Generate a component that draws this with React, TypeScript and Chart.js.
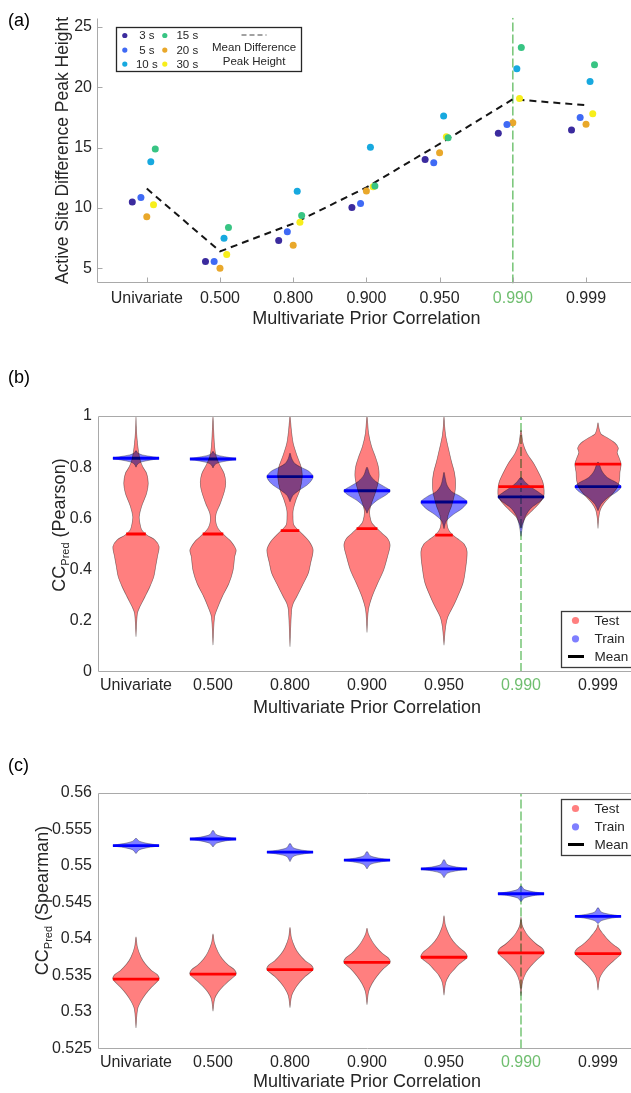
import React, { useEffect, useRef } from 'react';
import { Chart, registerables } from 'chart.js';

// ---------------- shared ----------------
const CATEGORIES = ['Univariate', '0.500', '0.800', '0.900', '0.950', '0.990', '0.999'];
const HIGHLIGHT_INDEX = 5; // '0.990'
const X_TITLE = 'Multivariate Prior Correlation';

// ---------------- panel (a) ----------------
const DURATIONS = ['3 s', '5 s', '10 s', '15 s', '20 s', '30 s'];
const PEAK_3S = [10.5, 5.56, 7.3, 10.04, 14.0, 16.18, 16.46];
const PEAK_5S = [10.87, 5.56, 8.02, 10.37, 13.74, 16.9, 17.48];
const PEAK_10S = [13.83, 7.49, 11.37, 15.02, 17.62, 21.52, 20.47];
const PEAK_15S = [14.88, 8.38, 9.38, 11.81, 15.8, 23.29, 21.85];
const PEAK_20S = [9.26, 5.0, 6.91, 11.4, 14.57, 17.06, 16.93];
const PEAK_30S = [10.26, 6.14, 8.82, 11.75, 15.9, 19.06, 17.79];
const PEAK_MEAN = [11.6, 6.4, 8.7, 11.7, 15.3, 19.0, 18.5];
const PEAK_Y_TICKS = [5, 10, 15, 20, 25];
const PEAK_Y_LABEL = 'Active Site Difference Peak Height';
const MEAN_LEGEND = ['Mean Difference', 'Peak Height'];

// ---------------- panel (b): Pearson, [value, relative density] ----------------
const PEARSON_TEST_MEAN = [0.539, 0.539, 0.552, 0.56, 0.535, 0.724, 0.812];
const PEARSON_TRAIN_MEAN = [0.835, 0.832, 0.763, 0.708, 0.664, 0.684, 0.724];
const PEARSON_TEST_SHAPES = [
  [[0.138,0],[0.229,0.06],[0.255,0.17],[0.294,0.39],[0.333,0.6],[0.372,0.77],[0.411,0.85],[0.451,0.93],[0.49,1],[0.516,0.82],[0.535,0.47],[0.555,0.25],[0.581,0.17],[0.607,0.14],[0.646,0.24],[0.698,0.46],[0.737,0.53],[0.776,0.46],[0.802,0.29],[0.828,0.18],[0.867,0.1],[0.919,0.04],[0.958,0.015],[1.0,0]],
  [[0.105,0],[0.216,0.07],[0.255,0.22],[0.294,0.4],[0.346,0.69],[0.398,0.87],[0.451,0.94],[0.477,1],[0.509,0.79],[0.529,0.55],[0.561,0.22],[0.587,0.12],[0.62,0.14],[0.659,0.32],[0.711,0.51],[0.743,0.55],[0.776,0.48],[0.809,0.29],[0.841,0.14],[0.88,0.07],[0.945,0.03],[1.0,0]],
  [[0.099,0],[0.242,0.07],[0.268,0.14],[0.294,0.29],[0.346,0.58],[0.385,0.79],[0.424,0.89],[0.477,1],[0.509,0.84],[0.535,0.58],[0.574,0.17],[0.607,0.13],[0.633,0.14],[0.672,0.26],[0.711,0.43],[0.763,0.53],[0.802,0.48],[0.841,0.32],[0.893,0.14],[0.945,0.06],[1.0,0]],
  [[0.154,0],[0.242,0.06],[0.294,0.22],[0.346,0.46],[0.398,0.72],[0.451,0.89],[0.496,1],[0.522,0.89],[0.542,0.65],[0.581,0.22],[0.607,0.13],[0.633,0.12],[0.665,0.22],[0.711,0.4],[0.763,0.52],[0.802,0.49],[0.841,0.36],[0.88,0.2],[0.932,0.07],[1.0,0]],
  [[0.105,0],[0.177,0.07],[0.216,0.17],[0.268,0.46],[0.346,0.82],[0.4,0.93],[0.47,1],[0.5,0.87],[0.52,0.6],[0.535,0.38],[0.555,0.2],[0.58,0.13],[0.61,0.17],[0.65,0.33],[0.7,0.47],[0.74,0.5],[0.78,0.45],[0.82,0.33],[0.87,0.2],[0.92,0.08],[0.96,0.03],[1.0,0]],
  [[0.561,0],[0.581,0.07],[0.607,0.22],[0.633,0.51],[0.659,0.79],[0.685,0.98],[0.711,1],[0.741,0.95],[0.774,0.79],[0.815,0.55],[0.854,0.26],[0.893,0.09],[0.945,0]],
  [[0.561,0],[0.6,0.03],[0.633,0.1],[0.66,0.27],[0.69,0.57],[0.72,0.83],[0.75,0.93],[0.78,0.95],[0.812,1],[0.84,0.9],[0.857,0.83],[0.875,0.88],[0.895,0.73],[0.915,0.4],[0.93,0.13],[0.95,0.05],[0.974,0]],
];
const PEARSON_TRAIN_SHAPES = [
  [[0.8,0],[0.812,0.07],[0.821,0.25],[0.829,0.7],[0.835,1],[0.841,0.7],[0.848,0.27],[0.855,0.08],[0.865,0]],
  [[0.797,0],[0.809,0.07],[0.818,0.25],[0.826,0.7],[0.832,1],[0.838,0.7],[0.845,0.27],[0.852,0.08],[0.862,0]],
  [[0.665,0],[0.69,0.13],[0.71,0.4],[0.735,0.8],[0.763,1],[0.785,0.8],[0.8,0.47],[0.815,0.2],[0.835,0.07],[0.855,0]],
  [[0.62,0],[0.645,0.13],[0.67,0.43],[0.69,0.8],[0.708,1],[0.725,0.73],[0.745,0.37],[0.77,0.13],[0.8,0]],
  [[0.56,0],[0.59,0.1],[0.615,0.4],[0.64,0.8],[0.664,1],[0.685,0.73],[0.705,0.33],[0.73,0.13],[0.76,0.05],[0.78,0]],
  [[0.53,0],[0.57,0.07],[0.61,0.2],[0.64,0.43],[0.665,0.8],[0.684,1],[0.7,0.8],[0.72,0.47],[0.74,0.2],[0.76,0]],
  [[0.63,0],[0.655,0.13],[0.68,0.4],[0.705,0.83],[0.724,1],[0.74,0.8],[0.76,0.4],[0.785,0.17],[0.82,0]],
];
const PEARSON_Y_TICKS = [0, 0.2, 0.4, 0.6, 0.8, 1];
const PEARSON_Y_LABELS = ['0', '0.2', '0.4', '0.6', '0.8', '1'];

// ---------------- panel (c): Spearman ----------------
const SPEARMAN_TEST_MEAN = [0.5345, 0.5352, 0.5358, 0.5368, 0.5375, 0.5381, 0.538];
const SPEARMAN_TRAIN_MEAN = [0.5528, 0.5537, 0.5519, 0.5508, 0.5496, 0.5462, 0.5431];
const SPEARMAN_TEST_SHAPES = [
  [[0.5278,0],[0.5304,0.07],[0.5315,0.22],[0.5325,0.43],[0.5334,0.67],[0.5345,1],[0.5351,0.93],[0.5357,0.67],[0.5366,0.4],[0.5375,0.22],[0.5389,0.06],[0.5403,0]],
  [[0.5301,0],[0.5318,0.07],[0.5327,0.22],[0.5335,0.43],[0.5342,0.67],[0.5352,1],[0.5358,0.93],[0.5364,0.67],[0.5373,0.4],[0.5382,0.22],[0.5395,0.06],[0.5407,0]],
  [[0.5306,0],[0.5322,0.07],[0.5332,0.22],[0.5341,0.43],[0.5349,0.67],[0.5358,1],[0.5364,0.93],[0.537,0.67],[0.5379,0.4],[0.5388,0.22],[0.5402,0.06],[0.5416,0]],
  [[0.531,0],[0.5328,0.07],[0.5339,0.22],[0.5349,0.43],[0.5358,0.67],[0.5368,1],[0.5374,0.93],[0.538,0.67],[0.5389,0.4],[0.5397,0.22],[0.5407,0.06],[0.5415,0]],
  [[0.5323,0],[0.534,0.07],[0.535,0.22],[0.5358,0.43],[0.5366,0.67],[0.5375,1],[0.5381,0.93],[0.5388,0.67],[0.5397,0.4],[0.5406,0.22],[0.5419,0.06],[0.5432,0]],
  [[0.5322,0],[0.5342,0.07],[0.5354,0.22],[0.5363,0.43],[0.5371,0.67],[0.5381,1],[0.5387,0.93],[0.5393,0.67],[0.5401,0.4],[0.5408,0.22],[0.5418,0.06],[0.543,0]],
  [[0.533,0],[0.5346,0.07],[0.5355,0.22],[0.5363,0.43],[0.537,0.67],[0.538,1],[0.5386,0.93],[0.5392,0.67],[0.54,0.4],[0.5407,0.22],[0.5414,0.06],[0.542,0]],
];
const SPEARMAN_TRAIN_SHAPES = [
  [[0.5517,0],[0.5522,0.14],[0.5525,0.48],[0.5528,1],[0.5531,0.48],[0.5534,0.14],[0.5538,0]],
  [[0.5526,0],[0.5531,0.14],[0.5534,0.48],[0.5537,1],[0.554,0.48],[0.5543,0.14],[0.5549,0]],
  [[0.5506,0],[0.5513,0.14],[0.5516,0.48],[0.5519,1],[0.5522,0.48],[0.5525,0.14],[0.5531,0]],
  [[0.5496,0],[0.5502,0.14],[0.5505,0.48],[0.5508,1],[0.5511,0.48],[0.5514,0.14],[0.552,0]],
  [[0.5484,0],[0.549,0.14],[0.5493,0.48],[0.5496,1],[0.5499,0.48],[0.5502,0.14],[0.5509,0]],
  [[0.5451,0],[0.5456,0.14],[0.5459,0.48],[0.5462,1],[0.5465,0.48],[0.5468,0.14],[0.5473,0]],
  [[0.5421,0],[0.5425,0.14],[0.5428,0.48],[0.5431,1],[0.5434,0.48],[0.5437,0.14],[0.5443,0]],
];
const SPEARMAN_Y_TICKS = [0.525, 0.53, 0.535, 0.54, 0.545, 0.55, 0.555, 0.56];
const SPEARMAN_Y_LABELS = ['0.525', '0.53', '0.535', '0.54', '0.545', '0.55', '0.555', '0.56'];
const VIOLIN_LEGEND = ['Test', 'Train', 'Mean'];

// ---------------- styles ----------------
const FONT = '"Liberation Sans", Arial, Helvetica, sans-serif';
const TEXT = '#262626';
const AXIS_GRAY = '#a9a9a9';
const HL_LINE = '#7ec87e';
const HL_TEXT = '#6fbe6f';
const DURATION_COLORS = ['#3b2b9e', '#3f6af5', '#17a9df', '#38c483', '#e9a82b', '#f7ee1b'];
const DURATION_JITTER = [-0.198, -0.08, 0.055, 0.116, 0, 0.092];
const VIOLIN_HALF = 0.3;
const TEST_FILL = 'rgba(255,0,0,0.5)';
const TRAIN_FILL = 'rgba(0,0,255,0.5)';

const multiplyPlugin = {
  id: 'multiplyBlend',
  beforeDatasetDraw(chart: any, args: any) {
    const ds = chart.data.datasets[args.index];
    if (ds && ds.blendMultiply) {
      chart.ctx.save();
      chart.ctx.globalCompositeOperation = 'multiply';
    }
  },
  afterDatasetDraw(chart: any, args: any) {
    const ds = chart.data.datasets[args.index];
    if (ds && ds.blendMultiply) chart.ctx.restore();
  },
};
Chart.register(multiplyPlugin as any);
Chart.register(...registerables);
Chart.defaults.font.family = FONT;
Chart.defaults.color = TEXT;

function densityAt(profile: number[][], v: number) {
  for (let k = 0; k < profile.length - 1; k++) {
    const [v0, d0] = profile[k];
    const [v1, d1] = profile[k + 1];
    if (v >= v0 && v <= v1) return d0 + ((d1 - d0) * (v - v0)) / (v1 - v0);
  }
  return 0;
}

function violinPoints(center: number, profile: number[][]) {
  const right = profile.map(([v, d]) => ({ x: center + d * VIOLIN_HALF, y: v }));
  const left = profile
    .slice()
    .reverse()
    .map(([v, d]) => ({ x: center - d * VIOLIN_HALF, y: v }));
  return [...right, ...left.slice(1)];
}

function framePlugin(kind: 'axes' | 'box', inward: boolean, yTicks: number[]) {
  return {
    id: 'frame',
    afterDatasetsDraw(chart: any) {
      const { ctx, chartArea: a, scales } = chart;
      const L = Math.round(a.left) + 0.5;
      const B = Math.round(a.bottom) - 0.5;
      const T = Math.round(a.top) + 0.5;
      const R = Math.round(a.right) - 0.5;
      ctx.save();
      ctx.strokeStyle = AXIS_GRAY;
      ctx.lineWidth = 1;
      ctx.beginPath();
      if (kind === 'box') {
        ctx.rect(L, T, R - L, B - T);
      } else {
        ctx.moveTo(L, T);
        ctx.lineTo(L, B);
        ctx.lineTo(R, B);
      }
      ctx.stroke();
      if (inward) {
        ctx.beginPath();
        CATEGORIES.forEach((_, i) => {
          const px = Math.round(scales.x.getPixelForValue(i + 1)) + 0.5;
          ctx.moveTo(px, B);
          ctx.lineTo(px, B - 5);
        });
        yTicks.forEach((v) => {
          const py = Math.round(scales.y.getPixelForValue(v)) + 0.5;
          ctx.moveTo(L, py);
          ctx.lineTo(L + 5, py);
        });
        ctx.stroke();
      }
      ctx.restore();
    },
  };
}

function yTitlePlugin(parts: { text: string; size: number; dy: number }[], x: number, yCenter: number, baseline: string) {
  return {
    id: 'yTitle',
    afterDraw(chart: any) {
      const ctx = chart.ctx;
      ctx.save();
      ctx.translate(x, yCenter);
      ctx.rotate(-Math.PI / 2);
      ctx.fillStyle = TEXT;
      ctx.textBaseline = baseline;
      ctx.textAlign = 'left';
      let total = 0;
      const widths = parts.map((p) => {
        ctx.font = `${p.size}px ${FONT}`;
        const w = ctx.measureText(p.text).width;
        total += w;
        return w;
      });
      let cx = -total / 2;
      parts.forEach((p, i) => {
        ctx.font = `${p.size}px ${FONT}`;
        ctx.fillText(p.text, cx, p.dy);
        cx += widths[i];
      });
      ctx.restore();
    },
  };
}

const legendAPlugin = {
  id: 'legendA',
  afterDraw(chart: any) {
    const { ctx, chartArea: a } = chart;
    const x0 = Math.round(a.left + 18.7) + 0.5;
    const y0 = Math.round(a.top + 9) + 0.5;
    const w = 185;
    const h = 44;
    ctx.save();
    ctx.fillStyle = '#fff';
    ctx.fillRect(x0, y0, w, h);
    ctx.strokeStyle = '#262626';
    ctx.lineWidth = 1.3;
    ctx.strokeRect(x0, y0, w, h);
    ctx.font = `11.5px ${FONT}`;
    ctx.textBaseline = 'middle';
    ctx.textAlign = 'center';
    const rows = [8, 22.6, 36.6];
    DURATIONS.forEach((name, s) => {
      const col = Math.floor(s / 3);
      const row = s % 3;
      const mx = x0 + (col === 0 ? 8.3 : 48.3);
      const tx = x0 + (col === 0 ? 30.3 : 70.8);
      ctx.fillStyle = DURATION_COLORS[s];
      ctx.beginPath();
      ctx.arc(mx, y0 + rows[row], 2.6, 0, Math.PI * 2);
      ctx.fill();
      ctx.fillStyle = TEXT;
      ctx.fillText(name, tx, y0 + rows[row] + 0.5);
    });
    ctx.strokeStyle = '#444';
    ctx.lineWidth = 1;
    ctx.setLineDash([5, 3]);
    ctx.beginPath();
    ctx.moveTo(x0 + 125, y0 + 7.5);
    ctx.lineTo(x0 + 150, y0 + 7.5);
    ctx.stroke();
    ctx.setLineDash([]);
    ctx.fillStyle = TEXT;
    ctx.fillText(MEAN_LEGEND[0], x0 + 137.6, y0 + 20.5);
    ctx.fillText(MEAN_LEGEND[1], x0 + 137.6, y0 + 34.5);
    ctx.restore();
  },
};

function violinLegendPlugin(where: 'top' | 'bottom') {
  return {
    id: 'violinLegend',
    afterDraw(chart: any) {
      const { ctx, chartArea: a } = chart;
      const h = 56;
      const x0 = Math.round(a.right - 75.5) + 0.5;
      const y0 = Math.round(where === 'top' ? a.top + 6.3 : a.bottom - 5 - h) + 0.5;
      ctx.save();
      ctx.fillStyle = '#fff';
      ctx.fillRect(x0, y0, 90, h);
      ctx.strokeStyle = '#3a3a3a';
      ctx.lineWidth = 1.3;
      ctx.strokeRect(x0, y0, 90, h);
      const rows = [9, 27.3, 45];
      ctx.font = `13.5px ${FONT}`;
      ctx.textBaseline = 'middle';
      ctx.textAlign = 'left';
      const markers = [TEST_FILL, TRAIN_FILL];
      VIOLIN_LEGEND.forEach((label, i) => {
        const cy = y0 + rows[i];
        if (i < 2) {
          ctx.fillStyle = markers[i];
          ctx.beginPath();
          ctx.arc(x0 + 14, cy, 3.6, 0, Math.PI * 2);
          ctx.fill();
        } else {
          ctx.strokeStyle = '#000';
          ctx.lineWidth = 3;
          ctx.beginPath();
          ctx.moveTo(x0 + 6.5, cy);
          ctx.lineTo(x0 + 22.5, cy);
          ctx.stroke();
        }
        ctx.fillStyle = TEXT;
        ctx.fillText(label, x0 + 33, cy + 0.5);
      });
      ctx.restore();
    },
  };
}

function xScale(min: number, max: number, tickPad: number, axisHeight: number, titlePad: number) {
  return {
    type: 'linear',
    min,
    max,
    grid: { display: false, drawTicks: false },
    border: { display: false },
    afterBuildTicks: (s: any) => {
      s.ticks = CATEGORIES.map((_, i) => ({ value: i + 1 }));
    },
    afterFit: (s: any) => {
      s.height = axisHeight;
    },
    ticks: {
      autoSkip: false,
      maxRotation: 0,
      padding: tickPad,
      font: { size: 16 },
      color: (c: any) => (c.tick && Math.round(c.tick.value) === HIGHLIGHT_INDEX + 1 ? HL_TEXT : TEXT),
      callback: (v: any) => CATEGORIES[Math.round(v) - 1],
    },
    title: {
      display: true,
      text: X_TITLE,
      color: TEXT,
      font: { size: 18 },
      padding: { top: 0, bottom: titlePad },
    },
  };
}

function yScale(min: number, max: number, ticks: number[], labels: string[], width: number, pad: number) {
  return {
    type: 'linear',
    min,
    max,
    grid: { display: false, drawTicks: false },
    border: { display: false },
    afterBuildTicks: (s: any) => {
      s.ticks = ticks.map((v) => ({ value: v }));
    },
    afterFit: (s: any) => {
      s.width = width;
    },
    ticks: {
      padding: pad,
      font: { size: 16 },
      color: TEXT,
      callback: (_v: any, i: number) => labels[i],
    },
  };
}

function configA() {
  const series = [PEAK_3S, PEAK_5S, PEAK_10S, PEAK_15S, PEAK_20S, PEAK_30S];
  const yMin = 3.75;
  const yMax = 25.75;
  const datasets: any[] = series.map((vals, s) => ({
    label: DURATIONS[s],
    data: vals.map((v, i) => ({ x: i + 1 + DURATION_JITTER[s], y: v })),
    showLine: false,
    pointRadius: 3.5,
    pointBorderWidth: 0,
    pointBackgroundColor: DURATION_COLORS[s],
    pointBorderColor: DURATION_COLORS[s],
    order: 1,
  }));
  datasets.push({
    label: 'Mean',
    data: PEAK_MEAN.map((v, i) => ({ x: i + 1, y: v })),
    borderColor: '#151515',
    borderWidth: 2,
    borderDash: [7, 5],
    pointRadius: 0,
    tension: 0,
    fill: false,
    order: 5,
  });
  datasets.push({
    label: 'highlight',
    data: [
      { x: HIGHLIGHT_INDEX + 1, y: yMin },
      { x: HIGHLIGHT_INDEX + 1, y: yMax },
    ],
    borderColor: HL_LINE,
    borderWidth: 1.6,
    borderDash: [9, 3],
    pointRadius: 0,
    fill: false,
    order: 9,
  });
  return {
    type: 'line',
    data: { datasets },
    options: {
      responsive: false,
      animation: false,
      events: [],
      layout: { padding: { top: 17.7, right: 4.2, bottom: 0, left: 0 } },
      plugins: { legend: { display: false }, tooltip: { enabled: false } },
      scales: {
        x: xScale(0.32, 7.68, 5.3, 56.6, 9.7),
        y: yScale(yMin, yMax, PEAK_Y_TICKS, PEAK_Y_TICKS.map(String), 97, 5),
      },
    },
    plugins: [
      framePlugin('axes', true, PEAK_Y_TICKS),
      legendAPlugin,
      yTitlePlugin([{ text: PEAK_Y_LABEL, size: 17.5, dy: 0 }], 63, 150.5, 'middle'),
    ],
  };
}

function configViolin(spec: any) {
  const datasets: any[] = [];
  datasets.push({
    data: [
      { x: HIGHLIGHT_INDEX + 1, y: spec.yMin },
      { x: HIGHLIGHT_INDEX + 1, y: spec.yMax },
    ],
    borderColor: HL_LINE,
    borderWidth: 1.6,
    borderDash: [9, 3],
    pointRadius: 0,
    fill: false,
    order: 30,
  });
  CATEGORIES.forEach((_, i) => {
    const c = i + 1;
    const groups = [
      { shape: spec.trainShapes[i], mean: spec.trainMeans[i], fill: TRAIN_FILL, line: '#0000ff', o: 20, mult: false },
      { shape: spec.testShapes[i], mean: spec.testMeans[i], fill: TEST_FILL, line: '#ff0000', o: 18, mult: true },
    ];
    groups.forEach((g) => {
      datasets.push({
        data: violinPoints(c, g.shape),
        fill: 'shape',
        backgroundColor: g.fill,
        borderColor: 'rgba(40,40,40,0.55)',
        borderWidth: 0.7,
        pointRadius: 0,
        tension: 0.3,
        order: g.o,
        blendMultiply: g.mult,
      });
      const w = densityAt(g.shape, g.mean) * VIOLIN_HALF;
      datasets.push({
        data: [
          { x: c - w, y: g.mean },
          { x: c + w, y: g.mean },
        ],
        borderColor: g.line,
        borderWidth: 2.8,
        pointRadius: 0,
        fill: false,
        order: g.o - 1,
      });
    });
  });
  return {
    type: 'line',
    data: { datasets },
    options: {
      responsive: false,
      animation: false,
      events: [],
      layout: { padding: { top: spec.padTop, right: 3.5, bottom: 0, left: 0 } },
      plugins: { legend: { display: false }, tooltip: { enabled: false } },
      scales: {
        x: xScale(0.5, 7.5, spec.xTickPad, spec.xAxisH, spec.xTitlePad),
        y: yScale(spec.yMin, spec.yMax, spec.yTicks, spec.yLabels, 97.5, 5.5),
      },
    },
    plugins: [
      framePlugin('box', false, []),
      violinLegendPlugin(spec.legendWhere),
      yTitlePlugin(
        [
          { text: 'CC', size: 18, dy: 0 },
          { text: 'Pred', size: 11, dy: 4 },
          { text: ` (${spec.yName})`, size: 18, dy: 0 },
        ],
        spec.titleX,
        spec.titleY,
        'alphabetic'
      ),
    ],
  };
}

export default function App() {
  const aRef = useRef<HTMLCanvasElement>(null);
  const bRef = useRef<HTMLCanvasElement>(null);
  const cRef = useRef<HTMLCanvasElement>(null);

  useEffect(() => {
    const charts: Chart[] = [];
    charts.push(new Chart(aRef.current as HTMLCanvasElement, configA() as any));
    charts.push(
      new Chart(
        bRef.current as HTMLCanvasElement,
        configViolin({
          testShapes: PEARSON_TEST_SHAPES,
          trainShapes: PEARSON_TRAIN_SHAPES,
          testMeans: PEARSON_TEST_MEAN,
          trainMeans: PEARSON_TRAIN_MEAN,
          yMin: 0,
          yMax: 1,
          yTicks: PEARSON_Y_TICKS,
          yLabels: PEARSON_Y_LABELS,
          padTop: 61,
          xAxisH: 58,
          xTickPad: 4.4,
          xTitlePad: 11.2,
          legendWhere: 'bottom',
          yName: 'Pearson',
          titleX: 64.5,
          titleY: 170,
        }) as any
      )
    );
    charts.push(
      new Chart(
        cRef.current as HTMLCanvasElement,
        configViolin({
          testShapes: SPEARMAN_TEST_SHAPES,
          trainShapes: SPEARMAN_TRAIN_SHAPES,
          testMeans: SPEARMAN_TEST_MEAN,
          trainMeans: SPEARMAN_TRAIN_MEAN,
          yMin: 0.525,
          yMax: 0.56,
          yTicks: SPEARMAN_Y_TICKS,
          yLabels: SPEARMAN_Y_LABELS,
          padTop: 58,
          xAxisH: 44.5,
          xTickPad: 4.9,
          xTitlePad: 0,
          legendWhere: 'top',
          yName: 'Spearman',
          titleX: 47.5,
          titleY: 165.5,
        }) as any
      )
    );
    return () => charts.forEach((c) => c.destroy());
  }, []);

  const panelLabel = (text: string, top: number) => (
    <div
      style={{
        position: 'absolute',
        left: 8,
        top,
        fontSize: 18,
        lineHeight: '20px',
        color: '#000',
        fontFamily: FONT,
      }}
    >
      {text}
    </div>
  );

  return (
    <div
      style={{
        position: 'fixed',
        left: 0,
        top: 0,
        width: 631,
        height: 1093,
        overflow: 'hidden',
        background: '#fff',
      }}
    >
      <canvas ref={aRef} width={640} height={340} style={{ position: 'absolute', left: 0, top: 0, width: 640, height: 340 }} />
      <canvas ref={bRef} width={640} height={375} style={{ position: 'absolute', left: 0, top: 355, width: 640, height: 375 }} />
      <canvas ref={cRef} width={640} height={358} style={{ position: 'absolute', left: 0, top: 735, width: 640, height: 358 }} />
      {panelLabel('(a)', 10)}
      {panelLabel('(b)', 367)}
      {panelLabel('(c)', 755)}
    </div>
  );
}
